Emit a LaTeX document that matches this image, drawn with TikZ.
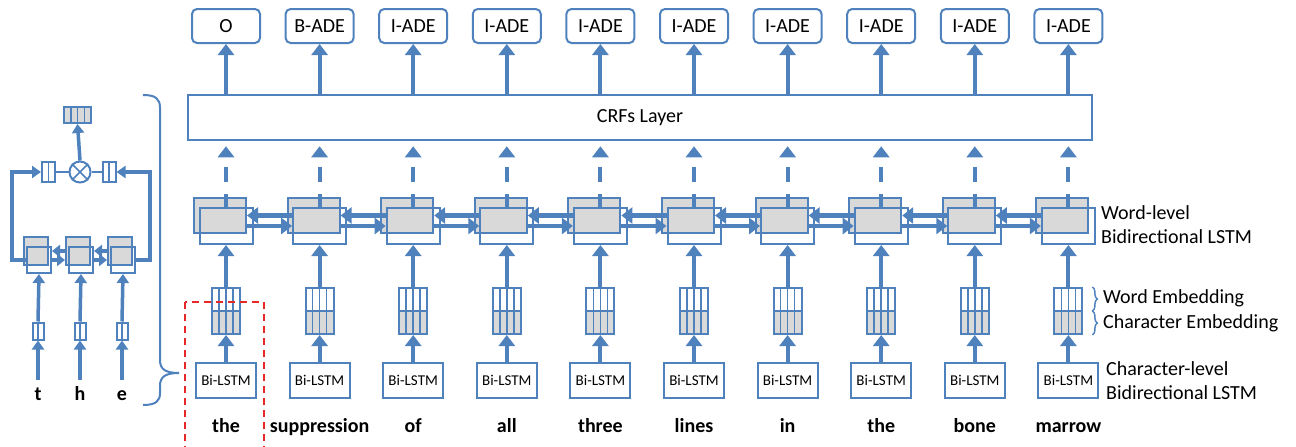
\documentclass[tikz,border=0pt]{standalone}
\usepackage{fontspec}
\setmainfont{Carlito}
\usetikzlibrary{arrows.meta,calc,decorations.pathreplacing}

\definecolor{lblue}{RGB}{79,129,189}
\definecolor{lgray}{RGB}{217,217,217}
\definecolor{dred}{RGB}{230,40,40}

\tikzset{
  box/.style={draw=lblue, line width=2pt, inner sep=0pt},
  inner/.style={lblue, line width=1.5pt},
  tagbox/.style={box, rounded corners=5pt, minimum width=68pt, minimum height=34pt, font=\fontsize{20}{24}\selectfont},
  lstmback/.style={box, fill=lgray, minimum width=52pt, minimum height=35pt},
  lstmfront/.style={box, minimum width=53pt, minimum height=36pt},
  cback/.style={box, fill=lgray, minimum width=24pt, minimum height=28pt},
  cfront/.style={box, minimum width=24pt, minimum height=26pt},
  charbox/.style={box, minimum width=60pt, minimum height=35pt, font=\fontsize{15}{18}\selectfont},
  word/.style={inner sep=2pt, text height=14pt, text depth=4pt, font=\fontsize{20}{24}\selectfont\bfseries},
  note/.style={inner sep=0pt, anchor=west, align=left, font=\fontsize{20}{24}\selectfont},
  arr/.style={lblue, line width=4pt, -{Triangle[length=11pt,width=16pt]}},
  sarr/.style={lblue, line width=3.5pt, -{Triangle[length=9pt,width=12pt]}},
  harr/.style={lblue, line width=4.5pt, -{Triangle[length=11pt,width=16pt]}},
  charr/.style={lblue, line width=3.5pt, -{Triangle[length=8pt,width=12pt]}},
  dasharr/.style={arr, dash pattern=on 13pt off 12pt on 15pt off 40pt, shorten >=5pt},
  brc/.style={lblue, line width=1.5pt, decorate, decoration={brace, amplitude=5pt}},
  emb/.style={box, minimum width=28pt, minimum height=46pt, path picture={
    \fill[lgray] (path picture bounding box.west) rectangle (path picture bounding box.south east);
    \draw[inner] (path picture bounding box.west) -- (path picture bounding box.east);
    \foreach \k in {1,2,3}
      \draw[inner] ($(path picture bounding box.north west)!\k/4!(path picture bounding box.north east)$)
        -- ($(path picture bounding box.south west)!\k/4!(path picture bounding box.south east)$);}},
  cellbox/.style={box, path picture={
    \foreach \k in {1,...,#1}{
      \pgfmathsetmacro\fr{\k/(#1+1)}
      \draw[inner] ($(path picture bounding box.north west)!\fr!(path picture bounding box.north east)$)
        -- ($(path picture bounding box.south west)!\fr!(path picture bounding box.south east)$);}}},
}

\begin{document}
\begin{tikzpicture}[x=1pt, y=-1pt]
  \useasboundingbox (0,0) rectangle (1296,447);

  % CRF layer
  \node[box, line width=2.5pt, minimum width=904pt, minimum height=45pt, font=\fontsize{20}{24}\selectfont] (crf) at (640,117.5) {CRFs Layer};

  % one column per word
  \foreach \w/\t [count=\i] in {the/O, suppression/B-ADE, of/I-ADE, all/I-ADE, three/I-ADE, lines/I-ADE, in/I-ADE, the/I-ADE, bone/I-ADE, marrow/I-ADE}{
    \pgfmathsetmacro\cx{226+93.6*(\i-1)}
    \node[tagbox] (tag\i) at (\cx,26) {\t};
    \node[lstmback] (wb\i) at (\cx-6,215.5) {};
    \node[lstmfront] (wf\i) at (\cx,226) {};
    \node[emb] (emb\i) at (\cx,311) {};
    \node[charbox] (bl\i) at (\cx,380) {Bi-LSTM};
    \node[word] (w\i) at (\cx,427) {\w};
  }

  \foreach \i in {1,...,10}{
    \draw[arr] (crf.north -| tag\i.south) -- (tag\i.south);
    \draw[dasharr] (wf\i.north) -- (crf.south -| wf\i.north);
    \draw[arr] (emb\i.north) -- (wf\i.south);
    \draw[arr] (bl\i.north) -- (emb\i.south);
  }

  % forward / backward links
  \foreach \i [count=\j from 2] in {1,...,9}{
    \draw[harr] (wf\j.west |- wb\i.east) -- (wb\i.east);
    \draw[harr] (wb\i.east |- wf\j.west) -- (wf\j.west);
  }

  % labels on the right
  \node[note] (wlnote) at (1101,225) {Word-level\\Bidirectional LSTM};
  \draw[brc] ([xshift=9pt]emb10.north east) -- ([xshift=9pt]emb10.east);
  \draw[brc] ([xshift=9pt]emb10.east) -- ([xshift=9pt]emb10.south east);
  \node[note] (wenote) at (1103,298) {Word Embedding};
  \node[note] (cenote) at (1103,323) {Character Embedding};
  \node[note] (clnote) at (1106,381) {Character-level\\Bidirectional LSTM};

  % character-level detail
  \node[cellbox=3, fill=lgray, minimum width=27pt, minimum height=16pt] (hout) at (77.5,115) {};
  \node[box, circle, minimum size=21pt] (mult) at (80,172) {};
  \draw[inner] (mult.north west) -- (mult.south east) (mult.north east) -- (mult.south west);
  \node[cellbox=1, minimum width=13pt, minimum height=20pt] (gl) at (48.5,172) {};
  \node[cellbox=1, minimum width=13pt, minimum height=20pt] (gr) at (109,172) {};
  \draw[inner] (gl) -- (mult) -- (gr);
  \draw[sarr] (mult.north) -- (hout.south);

  \foreach \c/\x [count=\k] in {t/38, h/80, e/122}{
    \node[cback] (cb\k) at (\x-2,251) {};
    \node[cfront] (cf\k) at (\x+1,260) {};
    \node[cellbox=1, minimum width=11pt, minimum height=17pt] (ce\k) at (\x,331) {};
    \node[word] (ch\k) at (\x,395) {\c};
    \draw[sarr] (ce\k.north) -- (cf\k.south);
    \draw[sarr, shorten <=4pt] (ch\k.north) -- (ce\k.south);
  }
  \foreach \k [count=\n from 2] in {1,2}{
    \draw[charr] (cb\n.west) -- (cf\k.east |- cb\n.west);
    \draw[charr] (cf\k.east) -- (cb\n.west |- cf\k.east);
  }
  \draw[sarr] (cf1.west) -- ++(-14,0) |- (gl.west);
  \draw[sarr] (cf3.east) -- ++(14,0) |- (gr.east);

  % brace to the first Bi-LSTM
  \draw[lblue, line width=2pt] (143,95) .. controls (156,95) and (160,99) .. (160,108)
    -- (160,360) .. controls (160,369) and (165,373) .. (179,373)
    .. controls (165,373) and (160,377) .. (160,386)
    -- (160,393) .. controls (160,401) and (156,405) .. (143,405);

  % highlight
  \draw[dred, line width=2.5pt, dash pattern=on 7pt off 5pt] (185,302) rectangle (264,452);
\end{tikzpicture}
\end{document}
